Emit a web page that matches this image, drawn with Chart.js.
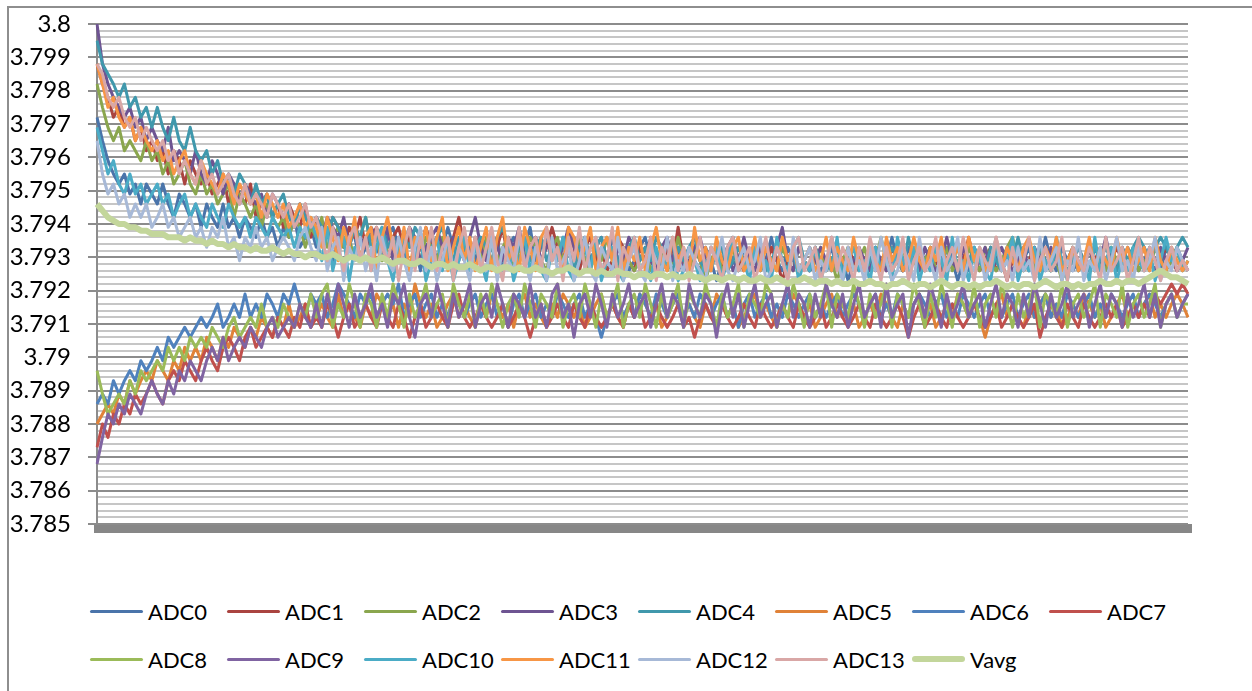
<!DOCTYPE html>
<html>
<head>
<meta charset="utf-8">
<script src="https://cdn.jsdelivr.net/npm/chart.js@4.4.1/dist/chart.umd.min.js"></script>
<style>
  html, body { margin: 0; padding: 0; background: #fff; }
  body { width: 1252px; height: 691px; position: relative; overflow: hidden; }
  #frame { position: absolute; left: 7px; top: 6px; width: 1300px; height: 800px;
           border-left: 2px solid #8e8e8e; border-top: 2px solid #8e8e8e; }
  #chart { position: absolute; left: 0; top: 0; }
  #legend { position: absolute; left: 90px; top: 587px; display: grid;
            grid-template-columns: repeat(8, 137px); grid-auto-rows: 48px;
            font-family: Lato, "Liberation Sans", sans-serif; font-size: 22px; color: #000; }
  .item { display: flex; align-items: center; white-space: nowrap; }
  .swatch { display: inline-block; width: 53px; margin-right: 5px; border-radius: 3px; }
</style>
</head>
<body>
<div id="frame"></div>
<canvas id="chart" width="1252" height="545"></canvas>
<div id="legend"></div>
<script>
// sample index along the run (the category axis carries no labels)
const samples = Array.from({ length: 200 }, (_, i) => i + 1);

const seriesNames = ["ADC0", "ADC1", "ADC2", "ADC3", "ADC4", "ADC5", "ADC6", "ADC7",
                     "ADC8", "ADC9", "ADC10", "ADC11", "ADC12", "ADC13", "Vavg"];

const seriesColors = ["#4a74aa", "#aa4440", "#8aa64e", "#6e5492", "#4098ac", "#e08238",
                      "#4f81bd", "#c0504d", "#9bbb59", "#8064a2", "#4bacc6", "#f79646",
                      "#a7b9d7", "#d9a7a6", "#c3d69b"];

const adc0 = [
  3.7972, 3.7965, 3.7959, 3.7955, 3.7952, 3.7955, 3.7949, 3.7952, 3.7946, 3.7952,
  3.7949, 3.7946, 3.7952, 3.7946, 3.7942, 3.7949, 3.7946, 3.7942, 3.7946, 3.7939,
  3.7946, 3.7942, 3.7939, 3.7946, 3.7939, 3.7942, 3.7936, 3.7942, 3.7939, 3.7936,
  3.7942, 3.7936, 3.7939, 3.7933, 3.7939, 3.7936, 3.7942, 3.7933, 3.7936, 3.7939,
  3.7933, 3.7936, 3.7939, 3.7929, 3.7936, 3.7933, 3.7939, 3.7936, 3.7929, 3.7933,
  3.7936, 3.7933, 3.7929, 3.7936, 3.7939, 3.7933, 3.7929, 3.7936, 3.7933, 3.7926,
  3.7933, 3.7936, 3.7929, 3.7933, 3.7939, 3.7933, 3.7929, 3.7936, 3.7933, 3.7929,
  3.7936, 3.7929, 3.7933, 3.7936, 3.7926, 3.7933, 3.7936, 3.7929, 3.7933, 3.7939,
  3.7929, 3.7933, 3.7936, 3.7929, 3.7933, 3.7926, 3.7933, 3.7936, 3.7929, 3.7933,
  3.7929, 3.7933, 3.7926, 3.7929, 3.7936, 3.7929, 3.7933, 3.7926, 3.7929, 3.7933,
  3.7936, 3.7929, 3.7926, 3.7933, 3.7929, 3.7933, 3.7926, 3.7929, 3.7933, 3.7929,
  3.7926, 3.7933, 3.7929, 3.7923, 3.7929, 3.7933, 3.7929, 3.7926, 3.7933, 3.7929,
  3.7933, 3.7926, 3.7929, 3.7936, 3.7929, 3.7926, 3.7933, 3.7929, 3.7926, 3.7929,
  3.7933, 3.7929, 3.7926, 3.7929, 3.7933, 3.7926, 3.7929, 3.7923, 3.7929, 3.7933,
  3.7926, 3.7929, 3.7933, 3.7926, 3.7929, 3.7936, 3.7929, 3.7926, 3.7933, 3.7929,
  3.7926, 3.7929, 3.7933, 3.7929, 3.7926, 3.7933, 3.7929, 3.7923, 3.7929, 3.7926,
  3.7933, 3.7929, 3.7926, 3.7933, 3.7929, 3.7926, 3.7929, 3.7933, 3.7926, 3.7929,
  3.7933, 3.7926, 3.7929, 3.7936, 3.7929, 3.7926, 3.7933, 3.7929, 3.7926, 3.7929,
  3.7926, 3.7933, 3.7929, 3.7926, 3.7929, 3.7933, 3.7926, 3.7929, 3.7933, 3.7929,
  3.7926, 3.7929, 3.7933, 3.7929, 3.7926, 3.7933, 3.7929, 3.7933, 3.7929, 3.7926];

const adc1 = [
  3.7988, 3.7982, 3.7978, 3.7972, 3.7975, 3.7969, 3.7972, 3.7965, 3.7969, 3.7962,
  3.7965, 3.7959, 3.7962, 3.7955, 3.7962, 3.7959, 3.7952, 3.7959, 3.7955, 3.7952,
  3.7955, 3.7949, 3.7952, 3.7955, 3.7946, 3.7952, 3.7949, 3.7946, 3.7952, 3.7942,
  3.7946, 3.7949, 3.7942, 3.7946, 3.7939, 3.7946, 3.7942, 3.7939, 3.7946, 3.7936,
  3.7942, 3.7939, 3.7936, 3.7942, 3.7939, 3.7933, 3.7939, 3.7936, 3.7942, 3.7933,
  3.7936, 3.7939, 3.7933, 3.7929, 3.7936, 3.7939, 3.7933, 3.7936, 3.7929, 3.7933,
  3.7939, 3.7933, 3.7936, 3.7929, 3.7933, 3.7936, 3.7942, 3.7933, 3.7929, 3.7936,
  3.7933, 3.7929, 3.7936, 3.7933, 3.7939, 3.7929, 3.7933, 3.7936, 3.7929, 3.7933,
  3.7936, 3.7929, 3.7933, 3.7939, 3.7933, 3.7929, 3.7936, 3.7933, 3.7926, 3.7933,
  3.7936, 3.7929, 3.7933, 3.7926, 3.7929, 3.7936, 3.7933, 3.7929, 3.7926, 3.7933,
  3.7929, 3.7936, 3.7929, 3.7926, 3.7933, 3.7929, 3.7939, 3.7929, 3.7926, 3.7933,
  3.7929, 3.7926, 3.7933, 3.7929, 3.7926, 3.7933, 3.7936, 3.7929, 3.7926, 3.7929,
  3.7933, 3.7929, 3.7926, 3.7933, 3.7929, 3.7923, 3.7929, 3.7933, 3.7926, 3.7929,
  3.7926, 3.7933, 3.7929, 3.7926, 3.7936, 3.7929, 3.7926, 3.7933, 3.7929, 3.7926,
  3.7929, 3.7933, 3.7926, 3.7929, 3.7926, 3.7933, 3.7929, 3.7926, 3.7929, 3.7933,
  3.7929, 3.7926, 3.7933, 3.7929, 3.7926, 3.7929, 3.7933, 3.7926, 3.7929, 3.7936,
  3.7929, 3.7926, 3.7929, 3.7933, 3.7926, 3.7929, 3.7923, 3.7929, 3.7933, 3.7926,
  3.7929, 3.7933, 3.7926, 3.7929, 3.7926, 3.7933, 3.7929, 3.7926, 3.7929, 3.7933,
  3.7929, 3.7926, 3.7929, 3.7933, 3.7926, 3.7929, 3.7933, 3.7929, 3.7926, 3.7929,
  3.7933, 3.7926, 3.7929, 3.7926, 3.7929, 3.7933, 3.7929, 3.7926, 3.7929, 3.7926];

const adc2 = [
  3.7982, 3.7975, 3.7969, 3.7965, 3.7969, 3.7962, 3.7965, 3.7962, 3.7959, 3.7965,
  3.7959, 3.7962, 3.7955, 3.7959, 3.7952, 3.7955, 3.7959, 3.7952, 3.7949, 3.7955,
  3.7949, 3.7952, 3.7946, 3.7949, 3.7952, 3.7942, 3.7949, 3.7946, 3.7942, 3.7946,
  3.7939, 3.7946, 3.7942, 3.7939, 3.7942, 3.7936, 3.7942, 3.7939, 3.7933, 3.7939,
  3.7936, 3.7942, 3.7933, 3.7936, 3.7939, 3.7933, 3.7936, 3.7929, 3.7936, 3.7942,
  3.7933, 3.7936, 3.7929, 3.7933, 3.7936, 3.7929, 3.7933, 3.7939, 3.7933, 3.7929,
  3.7936, 3.7933, 3.7929, 3.7936, 3.7933, 3.7926, 3.7933, 3.7936, 3.7929, 3.7933,
  3.7929, 3.7936, 3.7933, 3.7929, 3.7933, 3.7936, 3.7926, 3.7933, 3.7929, 3.7936,
  3.7933, 3.7929, 3.7926, 3.7933, 3.7936, 3.7929, 3.7933, 3.7929, 3.7936, 3.7929,
  3.7926, 3.7933, 3.7929, 3.7936, 3.7929, 3.7926, 3.7933, 3.7929, 3.7926, 3.7929,
  3.7933, 3.7926, 3.7929, 3.7933, 3.7926, 3.7929, 3.7936, 3.7929, 3.7926, 3.7933,
  3.7929, 3.7923, 3.7929, 3.7933, 3.7926, 3.7929, 3.7933, 3.7926, 3.7929, 3.7926,
  3.7929, 3.7933, 3.7926, 3.7929, 3.7926, 3.7933, 3.7929, 3.7926, 3.7933, 3.7929,
  3.7926, 3.7929, 3.7933, 3.7926, 3.7929, 3.7923, 3.7929, 3.7933, 3.7926, 3.7929,
  3.7933, 3.7926, 3.7929, 3.7936, 3.7929, 3.7926, 3.7929, 3.7933, 3.7926, 3.7929,
  3.7926, 3.7929, 3.7933, 3.7926, 3.7929, 3.7933, 3.7926, 3.7929, 3.7926, 3.7933,
  3.7929, 3.7926, 3.7933, 3.7929, 3.7926, 3.7929, 3.7933, 3.7936, 3.7929, 3.7926,
  3.7929, 3.7926, 3.7933, 3.7929, 3.7926, 3.7929, 3.7923, 3.7929, 3.7933, 3.7926,
  3.7929, 3.7933, 3.7926, 3.7929, 3.7926, 3.7933, 3.7929, 3.7926, 3.7929, 3.7933,
  3.7926, 3.7929, 3.7926, 3.7933, 3.7929, 3.7926, 3.7929, 3.7933, 3.7926, 3.7929];

const adc3 = [
  3.8000, 3.7988, 3.7982, 3.7978, 3.7975, 3.7972, 3.7975, 3.7969, 3.7972, 3.7965,
  3.7969, 3.7965, 3.7962, 3.7969, 3.7959, 3.7962, 3.7959, 3.7955, 3.7962, 3.7955,
  3.7952, 3.7959, 3.7955, 3.7949, 3.7955, 3.7952, 3.7946, 3.7952, 3.7949, 3.7946,
  3.7949, 3.7942, 3.7949, 3.7946, 3.7942, 3.7946, 3.7939, 3.7946, 3.7942, 3.7939,
  3.7942, 3.7936, 3.7942, 3.7939, 3.7936, 3.7942, 3.7933, 3.7939, 3.7936, 3.7933,
  3.7939, 3.7936, 3.7933, 3.7939, 3.7929, 3.7936, 3.7933, 3.7939, 3.7936, 3.7929,
  3.7933, 3.7936, 3.7939, 3.7933, 3.7929, 3.7936, 3.7933, 3.7929, 3.7936, 3.7942,
  3.7933, 3.7929, 3.7936, 3.7933, 3.7929, 3.7936, 3.7933, 3.7939, 3.7929, 3.7933,
  3.7936, 3.7929, 3.7933, 3.7936, 3.7929, 3.7933, 3.7939, 3.7933, 3.7929, 3.7936,
  3.7929, 3.7933, 3.7936, 3.7929, 3.7926, 3.7933, 3.7929, 3.7936, 3.7933, 3.7929,
  3.7933, 3.7929, 3.7926, 3.7933, 3.7936, 3.7929, 3.7933, 3.7926, 3.7929, 3.7933,
  3.7936, 3.7929, 3.7926, 3.7933, 3.7929, 3.7933, 3.7926, 3.7929, 3.7936, 3.7929,
  3.7926, 3.7933, 3.7929, 3.7926, 3.7933, 3.7939, 3.7929, 3.7926, 3.7933, 3.7929,
  3.7926, 3.7929, 3.7933, 3.7929, 3.7926, 3.7933, 3.7929, 3.7926, 3.7929, 3.7933,
  3.7929, 3.7926, 3.7933, 3.7929, 3.7926, 3.7929, 3.7933, 3.7926, 3.7929, 3.7933,
  3.7926, 3.7933, 3.7929, 3.7926, 3.7929, 3.7936, 3.7929, 3.7926, 3.7933, 3.7929,
  3.7926, 3.7929, 3.7933, 3.7926, 3.7929, 3.7933, 3.7929, 3.7926, 3.7929, 3.7933,
  3.7926, 3.7933, 3.7929, 3.7926, 3.7933, 3.7929, 3.7926, 3.7929, 3.7933, 3.7926,
  3.7929, 3.7933, 3.7926, 3.7929, 3.7936, 3.7929, 3.7926, 3.7933, 3.7929, 3.7926,
  3.7929, 3.7933, 3.7929, 3.7926, 3.7933, 3.7929, 3.7933, 3.7926, 3.7929, 3.7933];

const adc4 = [
  3.7995, 3.7988, 3.7985, 3.7982, 3.7978, 3.7982, 3.7975, 3.7978, 3.7972, 3.7975,
  3.7969, 3.7975, 3.7969, 3.7965, 3.7972, 3.7965, 3.7962, 3.7969, 3.7962, 3.7959,
  3.7962, 3.7955, 3.7959, 3.7952, 3.7955, 3.7949, 3.7955, 3.7952, 3.7946, 3.7952,
  3.7946, 3.7949, 3.7942, 3.7946, 3.7949, 3.7942, 3.7939, 3.7946, 3.7942, 3.7939,
  3.7942, 3.7939, 3.7936, 3.7942, 3.7939, 3.7936, 3.7933, 3.7939, 3.7936, 3.7942,
  3.7933, 3.7936, 3.7939, 3.7933, 3.7936, 3.7929, 3.7936, 3.7933, 3.7939, 3.7936,
  3.7929, 3.7933, 3.7936, 3.7939, 3.7933, 3.7929, 3.7936, 3.7933, 3.7929, 3.7933,
  3.7936, 3.7933, 3.7929, 3.7936, 3.7939, 3.7933, 3.7929, 3.7933, 3.7936, 3.7929,
  3.7933, 3.7936, 3.7929, 3.7933, 3.7929, 3.7936, 3.7933, 3.7926, 3.7933, 3.7936,
  3.7929, 3.7933, 3.7936, 3.7929, 3.7933, 3.7929, 3.7926, 3.7933, 3.7936, 3.7929,
  3.7933, 3.7929, 3.7936, 3.7933, 3.7929, 3.7926, 3.7933, 3.7929, 3.7933, 3.7936,
  3.7929, 3.7926, 3.7933, 3.7929, 3.7933, 3.7926, 3.7929, 3.7933, 3.7929, 3.7926,
  3.7933, 3.7929, 3.7926, 3.7929, 3.7933, 3.7929, 3.7926, 3.7933, 3.7936, 3.7929,
  3.7926, 3.7933, 3.7929, 3.7926, 3.7929, 3.7933, 3.7926, 3.7929, 3.7933, 3.7929,
  3.7926, 3.7929, 3.7933, 3.7926, 3.7929, 3.7933, 3.7929, 3.7926, 3.7936, 3.7929,
  3.7933, 3.7926, 3.7929, 3.7933, 3.7929, 3.7926, 3.7929, 3.7933, 3.7926, 3.7929,
  3.7933, 3.7929, 3.7926, 3.7933, 3.7929, 3.7926, 3.7933, 3.7929, 3.7936, 3.7929,
  3.7926, 3.7929, 3.7933, 3.7929, 3.7926, 3.7933, 3.7929, 3.7926, 3.7929, 3.7933,
  3.7929, 3.7926, 3.7933, 3.7929, 3.7933, 3.7929, 3.7926, 3.7933, 3.7929, 3.7933,
  3.7936, 3.7933, 3.7929, 3.7933, 3.7936, 3.7933, 3.7929, 3.7933, 3.7936, 3.7933];

const adc5 = [
  3.7880, 3.7883, 3.7886, 3.7883, 3.7889, 3.7886, 3.7893, 3.7889, 3.7893, 3.7896,
  3.7893, 3.7899, 3.7896, 3.7893, 3.7899, 3.7896, 3.7903, 3.7899, 3.7903, 3.7899,
  3.7906, 3.7903, 3.7899, 3.7906, 3.7903, 3.7909, 3.7906, 3.7903, 3.7909, 3.7906,
  3.7912, 3.7909, 3.7906, 3.7912, 3.7909, 3.7916, 3.7909, 3.7912, 3.7916, 3.7909,
  3.7912, 3.7916, 3.7912, 3.7909, 3.7919, 3.7912, 3.7916, 3.7912, 3.7909, 3.7916,
  3.7912, 3.7919, 3.7916, 3.7912, 3.7916, 3.7909, 3.7916, 3.7912, 3.7922, 3.7916,
  3.7912, 3.7916, 3.7909, 3.7912, 3.7916, 3.7919, 3.7912, 3.7916, 3.7912, 3.7909,
  3.7916, 3.7912, 3.7919, 3.7916, 3.7912, 3.7916, 3.7909, 3.7916, 3.7919, 3.7912,
  3.7916, 3.7912, 3.7909, 3.7916, 3.7912, 3.7919, 3.7916, 3.7912, 3.7916, 3.7909,
  3.7912, 3.7916, 3.7919, 3.7912, 3.7916, 3.7912, 3.7909, 3.7916, 3.7912, 3.7919,
  3.7916, 3.7912, 3.7916, 3.7909, 3.7912, 3.7916, 3.7919, 3.7912, 3.7916, 3.7912,
  3.7909, 3.7916, 3.7912, 3.7919, 3.7916, 3.7912, 3.7916, 3.7909, 3.7912, 3.7916,
  3.7919, 3.7912, 3.7916, 3.7912, 3.7909, 3.7916, 3.7912, 3.7919, 3.7916, 3.7912,
  3.7916, 3.7909, 3.7912, 3.7916, 3.7919, 3.7912, 3.7916, 3.7912, 3.7916, 3.7909,
  3.7912, 3.7916, 3.7912, 3.7919, 3.7916, 3.7912, 3.7909, 3.7916, 3.7912, 3.7916,
  3.7919, 3.7912, 3.7916, 3.7909, 3.7912, 3.7916, 3.7912, 3.7919, 3.7916, 3.7912,
  3.7916, 3.7912, 3.7906, 3.7912, 3.7916, 3.7919, 3.7912, 3.7916, 3.7912, 3.7909,
  3.7916, 3.7912, 3.7916, 3.7919, 3.7912, 3.7916, 3.7909, 3.7912, 3.7916, 3.7912,
  3.7919, 3.7916, 3.7912, 3.7916, 3.7909, 3.7912, 3.7916, 3.7919, 3.7912, 3.7916,
  3.7912, 3.7916, 3.7919, 3.7912, 3.7916, 3.7912, 3.7916, 3.7919, 3.7916, 3.7912];

const adc6 = [
  3.7886, 3.7889, 3.7886, 3.7893, 3.7889, 3.7893, 3.7896, 3.7893, 3.7899, 3.7896,
  3.7899, 3.7903, 3.7899, 3.7906, 3.7903, 3.7906, 3.7909, 3.7906, 3.7909, 3.7912,
  3.7909, 3.7912, 3.7916, 3.7909, 3.7912, 3.7916, 3.7912, 3.7919, 3.7912, 3.7916,
  3.7912, 3.7919, 3.7916, 3.7912, 3.7919, 3.7916, 3.7922, 3.7916, 3.7912, 3.7919,
  3.7916, 3.7919, 3.7912, 3.7916, 3.7922, 3.7919, 3.7916, 3.7912, 3.7919, 3.7916,
  3.7919, 3.7912, 3.7916, 3.7919, 3.7916, 3.7922, 3.7912, 3.7916, 3.7919, 3.7912,
  3.7916, 3.7919, 3.7912, 3.7916, 3.7912, 3.7919, 3.7916, 3.7912, 3.7916, 3.7919,
  3.7912, 3.7916, 3.7919, 3.7912, 3.7916, 3.7909, 3.7916, 3.7919, 3.7912, 3.7916,
  3.7919, 3.7912, 3.7916, 3.7912, 3.7919, 3.7916, 3.7912, 3.7916, 3.7919, 3.7912,
  3.7916, 3.7912, 3.7906, 3.7912, 3.7916, 3.7919, 3.7912, 3.7916, 3.7912, 3.7919,
  3.7916, 3.7912, 3.7919, 3.7916, 3.7912, 3.7916, 3.7919, 3.7912, 3.7916, 3.7912,
  3.7919, 3.7916, 3.7912, 3.7916, 3.7919, 3.7912, 3.7916, 3.7909, 3.7916, 3.7919,
  3.7912, 3.7916, 3.7919, 3.7912, 3.7916, 3.7912, 3.7919, 3.7916, 3.7912, 3.7916,
  3.7919, 3.7912, 3.7916, 3.7912, 3.7916, 3.7919, 3.7912, 3.7916, 3.7919, 3.7916,
  3.7912, 3.7916, 3.7919, 3.7912, 3.7916, 3.7912, 3.7919, 3.7916, 3.7912, 3.7916,
  3.7919, 3.7916, 3.7912, 3.7916, 3.7919, 3.7912, 3.7916, 3.7912, 3.7919, 3.7916,
  3.7912, 3.7916, 3.7919, 3.7912, 3.7916, 3.7912, 3.7916, 3.7919, 3.7912, 3.7916,
  3.7919, 3.7912, 3.7916, 3.7919, 3.7912, 3.7916, 3.7912, 3.7919, 3.7916, 3.7912,
  3.7916, 3.7919, 3.7912, 3.7916, 3.7912, 3.7919, 3.7916, 3.7912, 3.7916, 3.7919,
  3.7912, 3.7916, 3.7919, 3.7916, 3.7912, 3.7916, 3.7919, 3.7912, 3.7916, 3.7919];

const adc7 = [
  3.7873, 3.7880, 3.7876, 3.7883, 3.7880, 3.7886, 3.7883, 3.7889, 3.7886, 3.7889,
  3.7893, 3.7889, 3.7886, 3.7893, 3.7896, 3.7893, 3.7899, 3.7896, 3.7893, 3.7899,
  3.7903, 3.7899, 3.7896, 3.7903, 3.7906, 3.7903, 3.7899, 3.7906, 3.7909, 3.7903,
  3.7906, 3.7909, 3.7906, 3.7912, 3.7909, 3.7906, 3.7912, 3.7909, 3.7916, 3.7909,
  3.7912, 3.7909, 3.7916, 3.7912, 3.7906, 3.7912, 3.7916, 3.7909, 3.7912, 3.7916,
  3.7912, 3.7909, 3.7916, 3.7912, 3.7909, 3.7916, 3.7912, 3.7906, 3.7912, 3.7916,
  3.7909, 3.7912, 3.7916, 3.7912, 3.7909, 3.7916, 3.7919, 3.7912, 3.7909, 3.7912,
  3.7916, 3.7912, 3.7909, 3.7912, 3.7916, 3.7909, 3.7912, 3.7916, 3.7912, 3.7906,
  3.7912, 3.7916, 3.7909, 3.7912, 3.7916, 3.7912, 3.7909, 3.7916, 3.7912, 3.7909,
  3.7916, 3.7912, 3.7909, 3.7912, 3.7916, 3.7912, 3.7909, 3.7916, 3.7912, 3.7916,
  3.7909, 3.7912, 3.7916, 3.7912, 3.7909, 3.7912, 3.7916, 3.7909, 3.7912, 3.7906,
  3.7912, 3.7916, 3.7912, 3.7909, 3.7916, 3.7912, 3.7909, 3.7912, 3.7916, 3.7912,
  3.7909, 3.7916, 3.7912, 3.7909, 3.7912, 3.7916, 3.7912, 3.7909, 3.7916, 3.7912,
  3.7909, 3.7912, 3.7916, 3.7909, 3.7912, 3.7916, 3.7912, 3.7909, 3.7912, 3.7916,
  3.7912, 3.7909, 3.7916, 3.7912, 3.7909, 3.7912, 3.7916, 3.7912, 3.7906, 3.7912,
  3.7916, 3.7909, 3.7912, 3.7916, 3.7912, 3.7909, 3.7916, 3.7912, 3.7909, 3.7912,
  3.7916, 3.7912, 3.7909, 3.7912, 3.7916, 3.7909, 3.7912, 3.7916, 3.7912, 3.7909,
  3.7912, 3.7916, 3.7906, 3.7912, 3.7916, 3.7912, 3.7909, 3.7916, 3.7912, 3.7909,
  3.7916, 3.7912, 3.7909, 3.7912, 3.7916, 3.7912, 3.7916, 3.7909, 3.7912, 3.7916,
  3.7912, 3.7916, 3.7912, 3.7919, 3.7916, 3.7919, 3.7922, 3.7919, 3.7922, 3.7919];

const adc8 = [
  3.7896, 3.7889, 3.7883, 3.7886, 3.7889, 3.7886, 3.7893, 3.7889, 3.7896, 3.7893,
  3.7896, 3.7899, 3.7896, 3.7903, 3.7899, 3.7903, 3.7899, 3.7906, 3.7903, 3.7906,
  3.7903, 3.7909, 3.7906, 3.7903, 3.7909, 3.7912, 3.7906, 3.7909, 3.7912, 3.7909,
  3.7916, 3.7909, 3.7912, 3.7909, 3.7916, 3.7912, 3.7909, 3.7916, 3.7912, 3.7919,
  3.7912, 3.7919, 3.7922, 3.7909, 3.7916, 3.7912, 3.7922, 3.7916, 3.7909, 3.7919,
  3.7916, 3.7909, 3.7919, 3.7912, 3.7922, 3.7916, 3.7909, 3.7919, 3.7912, 3.7916,
  3.7922, 3.7912, 3.7916, 3.7919, 3.7909, 3.7922, 3.7916, 3.7912, 3.7919, 3.7909,
  3.7919, 3.7912, 3.7922, 3.7916, 3.7909, 3.7916, 3.7919, 3.7912, 3.7922, 3.7916,
  3.7909, 3.7919, 3.7916, 3.7912, 3.7922, 3.7909, 3.7916, 3.7919, 3.7912, 3.7922,
  3.7916, 3.7909, 3.7919, 3.7912, 3.7916, 3.7922, 3.7909, 3.7916, 3.7919, 3.7912,
  3.7922, 3.7916, 3.7909, 3.7919, 3.7912, 3.7916, 3.7922, 3.7909, 3.7919, 3.7916,
  3.7912, 3.7922, 3.7916, 3.7909, 3.7919, 3.7912, 3.7916, 3.7922, 3.7909, 3.7919,
  3.7916, 3.7912, 3.7922, 3.7919, 3.7909, 3.7916, 3.7912, 3.7922, 3.7916, 3.7909,
  3.7919, 3.7912, 3.7916, 3.7922, 3.7909, 3.7919, 3.7916, 3.7912, 3.7922, 3.7916,
  3.7909, 3.7919, 3.7912, 3.7916, 3.7922, 3.7909, 3.7919, 3.7916, 3.7912, 3.7922,
  3.7916, 3.7909, 3.7919, 3.7912, 3.7922, 3.7916, 3.7909, 3.7919, 3.7916, 3.7912,
  3.7922, 3.7909, 3.7916, 3.7919, 3.7912, 3.7922, 3.7916, 3.7909, 3.7919, 3.7912,
  3.7916, 3.7922, 3.7909, 3.7919, 3.7916, 3.7912, 3.7922, 3.7909, 3.7916, 3.7919,
  3.7912, 3.7916, 3.7922, 3.7909, 3.7919, 3.7916, 3.7912, 3.7922, 3.7909, 3.7916,
  3.7919, 3.7912, 3.7916, 3.7922, 3.7909, 3.7916, 3.7919, 3.7912, 3.7916, 3.7916];

const adc9 = [
  3.7868, 3.7876, 3.7883, 3.7880, 3.7886, 3.7883, 3.7889, 3.7886, 3.7883, 3.7889,
  3.7893, 3.7889, 3.7886, 3.7893, 3.7889, 3.7896, 3.7893, 3.7899, 3.7896, 3.7893,
  3.7899, 3.7903, 3.7899, 3.7906, 3.7899, 3.7903, 3.7906, 3.7903, 3.7909, 3.7906,
  3.7903, 3.7909, 3.7912, 3.7906, 3.7909, 3.7912, 3.7909, 3.7916, 3.7912, 3.7909,
  3.7916, 3.7909, 3.7919, 3.7912, 3.7922, 3.7916, 3.7909, 3.7919, 3.7912, 3.7916,
  3.7922, 3.7912, 3.7916, 3.7909, 3.7919, 3.7916, 3.7922, 3.7912, 3.7906, 3.7916,
  3.7919, 3.7912, 3.7922, 3.7916, 3.7909, 3.7919, 3.7912, 3.7916, 3.7922, 3.7909,
  3.7916, 3.7919, 3.7912, 3.7922, 3.7916, 3.7909, 3.7919, 3.7916, 3.7912, 3.7922,
  3.7912, 3.7916, 3.7909, 3.7919, 3.7922, 3.7912, 3.7916, 3.7906, 3.7916, 3.7919,
  3.7912, 3.7922, 3.7916, 3.7909, 3.7919, 3.7912, 3.7916, 3.7922, 3.7912, 3.7916,
  3.7919, 3.7909, 3.7916, 3.7922, 3.7912, 3.7919, 3.7916, 3.7909, 3.7922, 3.7916,
  3.7912, 3.7919, 3.7916, 3.7906, 3.7916, 3.7922, 3.7912, 3.7919, 3.7909, 3.7916,
  3.7922, 3.7912, 3.7916, 3.7919, 3.7909, 3.7916, 3.7922, 3.7912, 3.7919, 3.7916,
  3.7909, 3.7919, 3.7912, 3.7922, 3.7916, 3.7912, 3.7919, 3.7909, 3.7916, 3.7922,
  3.7912, 3.7916, 3.7919, 3.7909, 3.7922, 3.7912, 3.7916, 3.7919, 3.7906, 3.7916,
  3.7919, 3.7912, 3.7922, 3.7916, 3.7909, 3.7919, 3.7912, 3.7916, 3.7922, 3.7912,
  3.7916, 3.7919, 3.7909, 3.7916, 3.7922, 3.7912, 3.7919, 3.7916, 3.7909, 3.7919,
  3.7912, 3.7922, 3.7916, 3.7909, 3.7919, 3.7912, 3.7916, 3.7922, 3.7912, 3.7916,
  3.7919, 3.7909, 3.7916, 3.7922, 3.7912, 3.7919, 3.7916, 3.7909, 3.7919, 3.7912,
  3.7916, 3.7922, 3.7912, 3.7919, 3.7909, 3.7916, 3.7919, 3.7912, 3.7916, 3.7919];

const adc10 = [
  3.7969, 3.7962, 3.7955, 3.7959, 3.7952, 3.7949, 3.7955, 3.7949, 3.7952, 3.7946,
  3.7949, 3.7952, 3.7946, 3.7949, 3.7942, 3.7946, 3.7949, 3.7942, 3.7946, 3.7942,
  3.7939, 3.7946, 3.7942, 3.7939, 3.7946, 3.7942, 3.7939, 3.7942, 3.7936, 3.7942,
  3.7939, 3.7936, 3.7942, 3.7939, 3.7936, 3.7939, 3.7933, 3.7939, 3.7936, 3.7942,
  3.7936, 3.7929, 3.7939, 3.7926, 3.7933, 3.7936, 3.7923, 3.7933, 3.7929, 3.7936,
  3.7926, 3.7933, 3.7939, 3.7929, 3.7923, 3.7933, 3.7936, 3.7926, 3.7929, 3.7936,
  3.7923, 3.7929, 3.7936, 3.7926, 3.7933, 3.7923, 3.7929, 3.7936, 3.7926, 3.7933,
  3.7929, 3.7923, 3.7936, 3.7929, 3.7926, 3.7933, 3.7923, 3.7929, 3.7936, 3.7926,
  3.7933, 3.7926, 3.7923, 3.7933, 3.7929, 3.7936, 3.7926, 3.7923, 3.7929, 3.7933,
  3.7926, 3.7936, 3.7923, 3.7929, 3.7933, 3.7926, 3.7923, 3.7929, 3.7936, 3.7926,
  3.7929, 3.7923, 3.7933, 3.7926, 3.7929, 3.7936, 3.7923, 3.7926, 3.7933, 3.7929,
  3.7923, 3.7929, 3.7926, 3.7933, 3.7923, 3.7929, 3.7936, 3.7926, 3.7929, 3.7923,
  3.7933, 3.7926, 3.7929, 3.7923, 3.7936, 3.7929, 3.7926, 3.7933, 3.7923, 3.7929,
  3.7926, 3.7933, 3.7923, 3.7929, 3.7926, 3.7936, 3.7923, 3.7929, 3.7933, 3.7926,
  3.7929, 3.7923, 3.7933, 3.7926, 3.7929, 3.7923, 3.7936, 3.7929, 3.7926, 3.7933,
  3.7923, 3.7929, 3.7926, 3.7933, 3.7929, 3.7923, 3.7936, 3.7926, 3.7929, 3.7923,
  3.7933, 3.7929, 3.7926, 3.7923, 3.7933, 3.7926, 3.7929, 3.7936, 3.7923, 3.7929,
  3.7926, 3.7933, 3.7923, 3.7929, 3.7926, 3.7936, 3.7929, 3.7923, 3.7933, 3.7926,
  3.7929, 3.7923, 3.7936, 3.7926, 3.7929, 3.7933, 3.7923, 3.7929, 3.7926, 3.7933,
  3.7929, 3.7926, 3.7933, 3.7923, 3.7929, 3.7936, 3.7929, 3.7933, 3.7926, 3.7929];

const adc11 = [
  3.7988, 3.7982, 3.7975, 3.7978, 3.7972, 3.7969, 3.7972, 3.7965, 3.7969, 3.7965,
  3.7962, 3.7965, 3.7959, 3.7962, 3.7955, 3.7959, 3.7962, 3.7955, 3.7952, 3.7959,
  3.7955, 3.7952, 3.7949, 3.7955, 3.7952, 3.7946, 3.7952, 3.7949, 3.7946, 3.7949,
  3.7942, 3.7949, 3.7946, 3.7942, 3.7946, 3.7939, 3.7942, 3.7946, 3.7939, 3.7942,
  3.7939, 3.7933, 3.7942, 3.7936, 3.7929, 3.7939, 3.7933, 3.7942, 3.7929, 3.7936,
  3.7939, 3.7926, 3.7936, 3.7942, 3.7933, 3.7929, 3.7939, 3.7926, 3.7936, 3.7933,
  3.7939, 3.7929, 3.7936, 3.7942, 3.7926, 3.7933, 3.7939, 3.7929, 3.7936, 3.7926,
  3.7933, 3.7939, 3.7926, 3.7936, 3.7942, 3.7929, 3.7933, 3.7926, 3.7939, 3.7933,
  3.7926, 3.7936, 3.7939, 3.7929, 3.7933, 3.7926, 3.7939, 3.7936, 3.7929, 3.7933,
  3.7939, 3.7926, 3.7933, 3.7936, 3.7929, 3.7939, 3.7926, 3.7933, 3.7929, 3.7936,
  3.7926, 3.7933, 3.7939, 3.7929, 3.7926, 3.7936, 3.7929, 3.7933, 3.7926, 3.7939,
  3.7929, 3.7933, 3.7926, 3.7936, 3.7929, 3.7926, 3.7933, 3.7936, 3.7926, 3.7929,
  3.7936, 3.7926, 3.7933, 3.7929, 3.7926, 3.7936, 3.7929, 3.7933, 3.7926, 3.7929,
  3.7933, 3.7926, 3.7929, 3.7936, 3.7926, 3.7933, 3.7929, 3.7926, 3.7936, 3.7929,
  3.7926, 3.7933, 3.7929, 3.7926, 3.7936, 3.7929, 3.7933, 3.7926, 3.7929, 3.7936,
  3.7929, 3.7926, 3.7933, 3.7929, 3.7936, 3.7926, 3.7929, 3.7933, 3.7926, 3.7936,
  3.7929, 3.7933, 3.7926, 3.7929, 3.7936, 3.7926, 3.7933, 3.7929, 3.7926, 3.7933,
  3.7936, 3.7929, 3.7926, 3.7933, 3.7929, 3.7936, 3.7926, 3.7929, 3.7933, 3.7926,
  3.7929, 3.7936, 3.7926, 3.7933, 3.7929, 3.7926, 3.7936, 3.7929, 3.7933, 3.7926,
  3.7929, 3.7933, 3.7926, 3.7936, 3.7929, 3.7926, 3.7933, 3.7929, 3.7926, 3.7929];

const adc12 = [
  3.7965, 3.7955, 3.7949, 3.7952, 3.7946, 3.7949, 3.7942, 3.7946, 3.7942, 3.7946,
  3.7939, 3.7942, 3.7946, 3.7939, 3.7942, 3.7936, 3.7939, 3.7942, 3.7936, 3.7939,
  3.7933, 3.7939, 3.7936, 3.7942, 3.7933, 3.7936, 3.7929, 3.7936, 3.7933, 3.7939,
  3.7933, 3.7936, 3.7929, 3.7933, 3.7936, 3.7933, 3.7929, 3.7936, 3.7939, 3.7933,
  3.7929, 3.7939, 3.7926, 3.7933, 3.7936, 3.7923, 3.7933, 3.7929, 3.7936, 3.7926,
  3.7933, 3.7923, 3.7936, 3.7929, 3.7926, 3.7936, 3.7929, 3.7923, 3.7933, 3.7939,
  3.7926, 3.7933, 3.7923, 3.7929, 3.7936, 3.7926, 3.7933, 3.7929, 3.7923, 3.7936,
  3.7929, 3.7926, 3.7936, 3.7923, 3.7933, 3.7929, 3.7926, 3.7936, 3.7929, 3.7923,
  3.7933, 3.7929, 3.7923, 3.7936, 3.7926, 3.7929, 3.7933, 3.7923, 3.7929, 3.7936,
  3.7926, 3.7923, 3.7933, 3.7929, 3.7926, 3.7936, 3.7923, 3.7929, 3.7933, 3.7926,
  3.7923, 3.7933, 3.7929, 3.7926, 3.7936, 3.7923, 3.7929, 3.7926, 3.7933, 3.7929,
  3.7926, 3.7923, 3.7933, 3.7929, 3.7936, 3.7926, 3.7923, 3.7929, 3.7933, 3.7926,
  3.7929, 3.7936, 3.7923, 3.7926, 3.7933, 3.7929, 3.7923, 3.7936, 3.7926, 3.7929,
  3.7933, 3.7923, 3.7929, 3.7926, 3.7936, 3.7929, 3.7923, 3.7933, 3.7926, 3.7929,
  3.7923, 3.7933, 3.7926, 3.7936, 3.7929, 3.7923, 3.7926, 3.7933, 3.7929, 3.7923,
  3.7936, 3.7926, 3.7929, 3.7923, 3.7933, 3.7926, 3.7929, 3.7936, 3.7923, 3.7929,
  3.7926, 3.7933, 3.7923, 3.7929, 3.7936, 3.7926, 3.7929, 3.7923, 3.7933, 3.7926,
  3.7929, 3.7923, 3.7936, 3.7926, 3.7929, 3.7933, 3.7923, 3.7929, 3.7926, 3.7936,
  3.7923, 3.7929, 3.7926, 3.7933, 3.7923, 3.7929, 3.7936, 3.7926, 3.7929, 3.7923,
  3.7933, 3.7926, 3.7929, 3.7936, 3.7923, 3.7929, 3.7926, 3.7933, 3.7929, 3.7926];

const adc13 = [
  3.7988, 3.7985, 3.7978, 3.7975, 3.7978, 3.7972, 3.7969, 3.7972, 3.7965, 3.7969,
  3.7965, 3.7962, 3.7965, 3.7959, 3.7962, 3.7955, 3.7959, 3.7955, 3.7952, 3.7959,
  3.7952, 3.7955, 3.7949, 3.7952, 3.7955, 3.7949, 3.7946, 3.7952, 3.7946, 3.7949,
  3.7946, 3.7942, 3.7949, 3.7946, 3.7942, 3.7946, 3.7939, 3.7942, 3.7946, 3.7939,
  3.7942, 3.7936, 3.7929, 3.7939, 3.7933, 3.7926, 3.7936, 3.7939, 3.7929, 3.7936,
  3.7926, 3.7939, 3.7933, 3.7929, 3.7936, 3.7923, 3.7933, 3.7939, 3.7926, 3.7936,
  3.7929, 3.7939, 3.7926, 3.7933, 3.7936, 3.7923, 3.7933, 3.7939, 3.7929, 3.7936,
  3.7926, 3.7933, 3.7939, 3.7929, 3.7923, 3.7936, 3.7929, 3.7939, 3.7926, 3.7933,
  3.7936, 3.7926, 3.7939, 3.7929, 3.7933, 3.7923, 3.7936, 3.7929, 3.7939, 3.7926,
  3.7933, 3.7936, 3.7926, 3.7929, 3.7939, 3.7923, 3.7933, 3.7929, 3.7936, 3.7926,
  3.7929, 3.7936, 3.7923, 3.7933, 3.7929, 3.7936, 3.7926, 3.7933, 3.7923, 3.7929,
  3.7936, 3.7926, 3.7933, 3.7929, 3.7923, 3.7933, 3.7936, 3.7926, 3.7929, 3.7933,
  3.7923, 3.7929, 3.7936, 3.7926, 3.7933, 3.7929, 3.7923, 3.7933, 3.7936, 3.7926,
  3.7929, 3.7933, 3.7923, 3.7929, 3.7936, 3.7926, 3.7933, 3.7929, 3.7923, 3.7933,
  3.7926, 3.7936, 3.7929, 3.7923, 3.7933, 3.7926, 3.7929, 3.7936, 3.7923, 3.7929,
  3.7933, 3.7926, 3.7929, 3.7936, 3.7923, 3.7929, 3.7933, 3.7926, 3.7936, 3.7929,
  3.7923, 3.7933, 3.7929, 3.7926, 3.7936, 3.7929, 3.7923, 3.7933, 3.7926, 3.7929,
  3.7936, 3.7923, 3.7929, 3.7933, 3.7926, 3.7929, 3.7936, 3.7923, 3.7933, 3.7929,
  3.7926, 3.7933, 3.7929, 3.7923, 3.7936, 3.7926, 3.7929, 3.7933, 3.7923, 3.7929,
  3.7936, 3.7926, 3.7933, 3.7929, 3.7923, 3.7929, 3.7933, 3.7926, 3.7929, 3.7926];

const vavg = [
  3.7946, 3.7944, 3.7942, 3.7941, 3.7940, 3.7940, 3.7939, 3.7939, 3.7938, 3.7938,
  3.7937, 3.7937, 3.7937, 3.7936, 3.7936, 3.7936, 3.7935, 3.7936, 3.7935, 3.7935,
  3.7934, 3.7935, 3.7934, 3.7934, 3.7933, 3.7934, 3.7933, 3.7933, 3.7932, 3.7933,
  3.7932, 3.7932, 3.7933, 3.7932, 3.7931, 3.7932, 3.7931, 3.7931, 3.7930, 3.7931,
  3.7931, 3.7930, 3.7930, 3.7931, 3.7930, 3.7929, 3.7930, 3.7930, 3.7929, 3.7930,
  3.7929, 3.7929, 3.7930, 3.7929, 3.7928, 3.7929, 3.7929, 3.7928, 3.7928, 3.7929,
  3.7928, 3.7927, 3.7928, 3.7928, 3.7927, 3.7928, 3.7927, 3.7927, 3.7928, 3.7927,
  3.7926, 3.7927, 3.7927, 3.7926, 3.7927, 3.7927, 3.7926, 3.7927, 3.7926, 3.7926,
  3.7927, 3.7926, 3.7926, 3.7925, 3.7926, 3.7926, 3.7927, 3.7926, 3.7925, 3.7926,
  3.7926, 3.7925, 3.7926, 3.7925, 3.7925, 3.7926, 3.7925, 3.7925, 3.7924, 3.7925,
  3.7925, 3.7924, 3.7925, 3.7925, 3.7924, 3.7925, 3.7924, 3.7924, 3.7925, 3.7924,
  3.7924, 3.7923, 3.7924, 3.7924, 3.7923, 3.7924, 3.7924, 3.7923, 3.7924, 3.7923,
  3.7923, 3.7924, 3.7923, 3.7923, 3.7924, 3.7923, 3.7922, 3.7923, 3.7923, 3.7924,
  3.7923, 3.7922, 3.7923, 3.7923, 3.7922, 3.7923, 3.7922, 3.7922, 3.7923, 3.7922,
  3.7922, 3.7923, 3.7922, 3.7922, 3.7921, 3.7922, 3.7922, 3.7923, 3.7922, 3.7921,
  3.7922, 3.7922, 3.7921, 3.7922, 3.7923, 3.7922, 3.7921, 3.7922, 3.7922, 3.7921,
  3.7922, 3.7921, 3.7922, 3.7922, 3.7923, 3.7922, 3.7921, 3.7922, 3.7921, 3.7922,
  3.7922, 3.7921, 3.7922, 3.7923, 3.7922, 3.7921, 3.7922, 3.7922, 3.7921, 3.7922,
  3.7921, 3.7922, 3.7922, 3.7923, 3.7922, 3.7922, 3.7923, 3.7922, 3.7923, 3.7923,
  3.7922, 3.7923, 3.7924, 3.7925, 3.7926, 3.7925, 3.7924, 3.7924, 3.7923, 3.7922];

const seriesValues = [adc0, adc1, adc2, adc3, adc4, adc5, adc6, adc7,
                      adc8, adc9, adc10, adc11, adc12, adc13, vavg];

const yMin = 3.785, yMax = 3.8, yStep = 0.0002;

const isMajor = (v) => Math.round(v * 10000) % 10 === 0;

const datasets = seriesNames.map((name, i) => ({
  label: name,
  data: seriesValues[i],
  borderColor: seriesColors[i],
  backgroundColor: seriesColors[i],
  borderWidth: name === "Vavg" ? 6 : 3,
  pointRadius: 0,
  tension: 0,
  fill: false,
  borderJoinStyle: "round",
  // excel paints later series on top
  order: seriesNames.length - i
}));

const chart = new Chart(document.getElementById("chart"), {
  type: "line",
  data: { labels: samples, datasets: datasets },
  options: {
    responsive: false,
    animation: false,
    devicePixelRatio: 1,
    layout: { padding: { left: 0, right: 64, top: 24, bottom: 12 } },
    plugins: { legend: { display: false }, tooltip: { enabled: false } },
    scales: {
      x: {
        ticks: { display: false },
        grid: { drawOnChartArea: false, tickLength: 9, tickWidth: 7, tickColor: "#878787" },
        border: { display: false }
      },
      y: {
        min: yMin,
        max: yMax,
        afterFit: (scale) => {
          scale.width = 97;
          scale.paddingTop = 14;
          scale.paddingBottom = 14;
        },
        ticks: {
          stepSize: yStep,
          autoSkip: false,
          padding: 17,
          color: "#000",
          font: { family: "Lato", size: 24 },
          callback: (v) => isMajor(v) ? String(Number(v.toFixed(3))) : ""
        },
        grid: {
          lineWidth: 2,
          tickLength: 9,
          color: (ctx) => isMajor(ctx.tick.value) ? "#8c8c8c" : "#c6c6c6",
          tickColor: (ctx) => isMajor(ctx.tick.value) ? "#8c8c8c" : "rgba(0,0,0,0)"
        },
        border: { color: "#8c8c8c", width: 2 }
      }
    }
  }
});

// legend laid out like the spreadsheet one: fixed pitch, left aligned rows
const legend = document.getElementById("legend");
chart.data.datasets.forEach((ds) => {
  const item = document.createElement("div");
  item.className = "item";
  const sw = document.createElement("span");
  sw.className = "swatch";
  sw.style.height = ds.borderWidth + "px";
  sw.style.background = ds.borderColor;
  const txt = document.createElement("span");
  txt.textContent = ds.label;
  item.appendChild(sw);
  item.appendChild(txt);
  legend.appendChild(item);
});
</script>
</body>
</html>
